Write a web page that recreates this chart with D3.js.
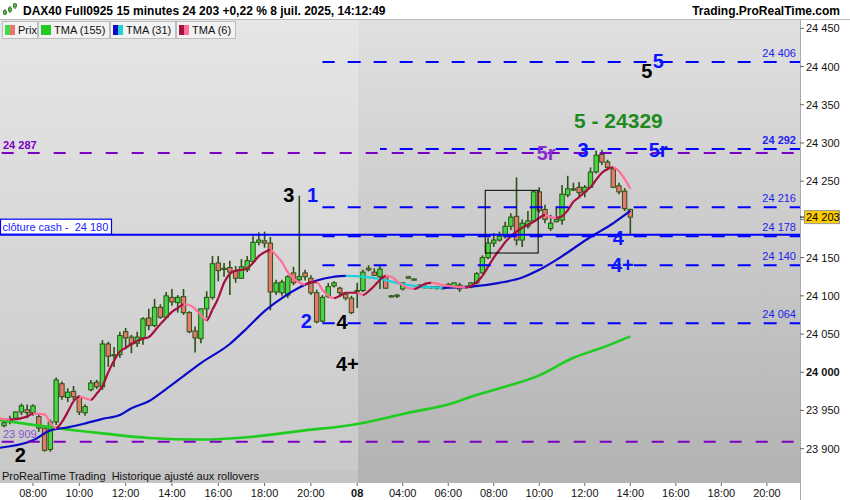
<!DOCTYPE html>
<html><head><meta charset="utf-8">
<script src="https://cdn.jsdelivr.net/npm/d3@7"></script>
<style>body{margin:0;background:#fff;} svg{display:block;font-family:"Liberation Sans",Arial,Helvetica,sans-serif;}</style>
</head><body><div id="chart"></div>
<script>
// ---------- DATA ----------
const opens = [
23930,23939,23940,23948,23951,23947,23942,23927,23899,23935,
23985,23967,23975,23967,23947,23977,23987,23981,24037,24022,
24023,24053,24046,24038,24045,24071,24061,24085,24072,24098,
24091,24099,24078,24054,24044,24083,24098,24143,24135,24137,
24132,24123,24134,24145,24170,24172,24169,24105,24104,24101,
24130,24121,24130,24123,24104,24067,24099,24113,24110,24102,
24097,24106,24107,24136,24131,24125,24125,24100,24101,24109,
24125,24122,24112,24112,24111,24112,24110,24112,24112,24114,
24111,24112,24117,24130,24150,24169,24173,24178,24191,24204,
24173,24191,24198,24236,24213,24188,24197,24199,24232,24240,
24242,24236,24242,24262,24285,24275,24266,24244,24237,24213];
const highs = [
23938,23943,23949,23959,23958,23958,23946,23931,23938,23993,
23988,23979,23982,23970,23958,23990,23990,24042,24040,24033,
24053,24058,24049,24053,24072,24083,24096,24089,24105,24109,
24101,24109,24080,24060,24083,24106,24152,24152,24143,24146,
24139,24148,24152,24178,24183,24184,24177,24121,24121,24127,
24138,24231,24134,24127,24108,24101,24117,24119,24112,24105,
24100,24117,24134,24140,24136,24139,24127,24101,24102,24118,
24126,24123,24115,24114,24113,24113,24112,24117,24117,24117,
24113,24118,24131,24153,24176,24182,24184,24197,24208,24255,
24200,24211,24238,24242,24219,24206,24216,24245,24257,24248,
24249,24245,24268,24290,24291,24278,24268,24248,24241,24214];
const lows = [
23928,23932,23938,23944,23940,23943,23922,23896,23896,23931,
23964,23961,23964,23944,23943,23975,23978,23977,24007,24007,
24019,24030,24025,24033,24036,24055,24059,24070,24071,24087,
24078,24075,24051,24026,24038,24071,24095,24119,24125,24101,
24117,24122,24131,24143,24166,24163,24081,24101,24100,24097,
24114,24119,24120,24101,24064,24065,24097,24111,24100,24094,
24076,24084,24105,24132,24126,24109,24109,24098,24097,24107,
24122,24121,24110,24110,24109,24108,24108,24111,24110,24105,
24110,24110,24115,24129,24148,24164,24171,24175,24186,24166,
24164,24188,24197,24209,24195,24185,24196,24193,24229,24237,
24228,24229,24241,24260,24271,24264,24241,24233,24211,24180];
const closes = [
23934,23935,23948,23956,23947,23956,23927,23898,23935,23990,
23968,23974,23968,23948,23955,23986,23981,24037,24021,24023,
24048,24045,24037,24046,24070,24061,24085,24072,24100,24092,
24098,24078,24053,24045,24083,24098,24142,24133,24136,24131,
24123,24138,24146,24170,24173,24169,24105,24117,24118,24125,
24117,24125,24125,24104,24066,24098,24112,24117,24104,24097,
24078,24107,24131,24134,24127,24135,24110,24100,24101,24117,
24123,24122,24114,24112,24112,24110,24111,24115,24117,24109,
24112,24117,24129,24150,24169,24173,24178,24191,24203,24173,
24195,24198,24236,24212,24200,24195,24200,24233,24240,24240,
24235,24242,24262,24284,24275,24268,24242,24236,24214,24203];

const tma155Bars = [-1,8,17,25,34,42,52,60,70,78,81,86,93,99,104,109];
const tma155Vals = [23938,23928,23920,23914,23912,23915,23924,23931,23947,23960,23968,23979,23996,24019,24032,24047];

const tma31Bars = [-1,5,8,11,14,17,20,22,25,28,31,34,39,42,45,48,51,54,57,59,62,65,68,71,74,76,81,86,90,93,96,102,106,109];
const tma31Vals = [23901,23911,23924,23928,23933,23939,23944,23953,23962,23978,23995,24012,24037,24058,24080,24097,24111,24120,24125,24126,24125,24122,24117,24113,24111,24110.5,24112,24117,24124,24134,24147,24177,24195,24211];

const tma6Bars = [-1,1,4,5,7,8,9,10,11,12,13,14,15,16,17,18,19,20,21,22,23,24,25,26,27,28,29,30,31,32,33,34,35,36,37,38,39,40,41,42,43,44,45,46,47,48,49,50,51,52,53,54,55,56,57,58,59,60,61,62,63,64,65,66,67,68,69,70,71,72,73,74,75,76,77,78,79,80,81,82,83,84,85,86,87,88,89,90,91,92,93,94,95,96,97,98,99,100,101,102,103,104,105,106,107,108,109];
const tma6Vals = [23940,23938,23942,23946,23945,23934,23927,23935,23948,23962,23968,23966,23964,23972,23982,24000,24015,24027,24032,24037,24041,24044,24046,24054,24063,24071,24079,24084,24089,24088,24083,24075,24068,24082,24097,24117,24129,24133,24134,24136,24143,24152,24157,24160,24153,24144,24131,24123,24117,24115,24118,24118,24108,24100,24097,24100,24104,24104,24104,24101,24106,24113,24121,24126,24125,24119,24114,24110,24109,24112,24116,24117,24116,24114,24113,24112,24111.5,24111,24113,24118,24126,24138,24150,24160,24170,24178,24184,24189,24193,24197,24202,24206,24203,24202,24204,24212,24223,24229,24236,24242,24252,24261,24266,24268,24263,24253,24240];

const xTickBars = [5,13,21,29,37,45,53,61,69,77,85,93,101,109,117,125,133];
const xTickLabels = ["08:00","10:00","12:00","14:00","16:00","18:00","20:00","08","04:00","06:00","08:00","10:00","12:00","14:00","16:00","18:00","20:00"];
const yTicks = [23900,23950,24000,24050,24100,24150,24200,24250,24300,24350,24400,24450];
const yTickLabels = ["23 900","23 950","24 000","24 050","24 100","24 150","24 200","24 250","24 300","24 350","24 400","24 450"];

const blueLevels = [24406,24292,24216,24178,24140,24064];
const blueLevelLabels = ["24 406","24 292","24 216","24 178","24 140","24 064"];
const blueLevelStart = [55,65,55,55,55,55];
const purpleLevels = [24287,23909];
const purpleLevelLabels = ["24 287","23 909"];
const cashClose = 24180;
const cashLabel = "clôture cash -\u00a0 24 180";
const lastPrice = 24203, lastPriceLabel = "24 203";
const dayBreakBar = 61;
const boxBars = [83.5,92.8], boxPrices = [24156,24238];

const annoText  = ["3","1","2","4","4+","2","5r","3","5r","5 - 24329","5","5","4","4+"];
const annoBar   = [49.2,53.3,52.2,58.4,59.3,2.8,94.2,100.7,113.9,106.9,111.9,113.9,106.9,107.6];
const annoPrice = [24223,24223,24058,24056,24001,23883,24278,24282,24282,24320,24385,24398,24167,24131];
const annoStyle = ["k","b","b","k","k","k","p","b","b","g","k","b","b","b"];

// ---------- DRAW ----------
const W=850,H=500;
const P={l:0,r:800,t:20,b:483};
const svg=d3.select("#chart").append("svg").attr("width",W).attr("height",H);
const x=d3.scaleLinear().domain([0,dayBreakBar,133]).range([4.05,357.2,766.9]);
const y=d3.scaleLinear().domain([23900,24450]).range([448.7,28.3]);
const defs=svg.append("defs");
function grad(id,c1,c2){const g=defs.append("linearGradient").attr("id",id).attr("gradientUnits","userSpaceOnUse").attr("x1",0).attr("x2",0).attr("y1",P.t).attr("y2",P.b);
 g.append("stop").attr("offset",0).attr("stop-color",c1);g.append("stop").attr("offset",1).attr("stop-color",c2);}
grad("gL","#e6e6e6","#c8c8c8");
grad("gR","#e0e0e0","#b2b2b2");
defs.append("clipPath").attr("id","plotClip").append("rect").attr("x",P.l).attr("y",P.t).attr("width",P.r-P.l).attr("height",P.b-P.t);

const xb=x(dayBreakBar)+0.5;
svg.append("rect").attr("x",P.l).attr("y",P.t).attr("width",xb-P.l).attr("height",P.b-P.t).attr("fill","url(#gL)");
svg.append("rect").attr("x",xb).attr("y",P.t).attr("width",P.r-xb).attr("height",P.b-P.t).attr("fill","url(#gR)");

const g=svg.append("g").attr("clip-path","url(#plotClip)");

// candles
const bars=d3.range(opens.length);
const wick="#2b5214";
g.append("g").selectAll("line").data(bars).join("line")
 .attr("x1",i=>x(i)).attr("x2",i=>x(i)).attr("y1",i=>y(highs[i])).attr("y2",i=>y(lows[i]))
 .attr("stroke",wick).attr("stroke-width",1.6);
g.append("g").selectAll("rect").data(bars).join("rect")
 .attr("x",i=>x(i)-2.2).attr("width",4.4)
 .attr("y",i=>y(Math.max(opens[i],closes[i])))
 .attr("height",i=>Math.max(1.2,Math.abs(y(opens[i])-y(closes[i]))))
 .attr("fill",i=>closes[i]>=opens[i]?"#45d845":"#e8786e")
 .attr("stroke",wick).attr("stroke-width",1);

// colored line helper
function colorLine(bs,vs,up,down,w){
 const pts=bs.map((b,k)=>[x(b),y(vs[k])]);
 const line=d3.line().curve(d3.curveMonotoneX);
 const d=line(pts);
 if(down==null){g.append("path").attr("d",d).attr("fill","none").attr("stroke",up).attr("stroke-width",w);return;}
 for(let k=0;k<bs.length-1;k++){
  const rising=vs[k+1]>=vs[k];
  const id="c"+Math.random().toString(36).slice(2);
  const x0=k===0?-50:pts[k][0], x1=k===bs.length-2?900:pts[k+1][0];
  defs.append("clipPath").attr("id",id).append("rect").attr("x",x0).attr("y",0).attr("width",x1-x0+0.3).attr("height",H);
  g.append("path").attr("d",d).attr("fill","none").attr("stroke",rising?up:down).attr("stroke-width",w).attr("clip-path",`url(#${id})`);
 }
}
colorLine(tma155Bars,tma155Vals,"#1fcc1f",null,2.6);
colorLine(tma31Bars,tma31Vals,"#0a0ac8","#1fd0d8",2.2);
colorLine(tma6Bars,tma6Vals,"#a5103e","#ff6f9a",2.2);

// levels
const phase=321.7, per=26;
blueLevels.forEach((v,k)=>{
 const x1=x(blueLevelStart[k]);
 const off=((x1-phase)%per+per)%per;
 g.append("line").attr("x1",x1).attr("x2",P.r).attr("y1",y(v)).attr("y2",y(v))
  .attr("stroke","#0000ff").attr("stroke-width",2).attr("stroke-dasharray","13,13").attr("stroke-dashoffset",off);
 svg.append("text").attr("x",796).attr("y",y(v)-5).attr("text-anchor","end").attr("font-size",11)
  .attr("font-weight",k===1?"bold":"normal").attr("fill","#2222ee").text(blueLevelLabels[k]);
});
purpleLevels.forEach((v,k)=>{
 g.append("line").attr("x1",1.7).attr("x2",P.r).attr("y1",y(v)).attr("y2",y(v))
  .attr("stroke","#7a00c2").attr("stroke-width",2).attr("stroke-dasharray","12,14");
});
svg.append("text").attr("x",3).attr("y",y(purpleLevels[0])-4).attr("font-size",11).attr("font-weight","bold").attr("fill","#7a00c2").text(purpleLevelLabels[0]);
svg.append("text").attr("x",3).attr("y",y(purpleLevels[1])-4).attr("font-size",11).attr("fill","#8a4fd0").text(purpleLevelLabels[1]);

// cash close
g.append("line").attr("x1",P.l).attr("x2",P.r).attr("y1",y(cashClose)).attr("y2",y(cashClose)).attr("stroke","#0000ff").attr("stroke-width",2);
svg.append("rect").attr("x",0.5).attr("y",y(cashClose)-15.5).attr("width",111).attr("height",15).attr("fill","#fff").attr("stroke","#0000ff").attr("stroke-width",1.2);
svg.append("text").attr("x",2.5).attr("y",y(cashClose)-4).attr("font-size",11).attr("fill","#1a1aff").text(cashLabel);

// box
g.append("rect").attr("x",x(boxBars[0])).attr("y",y(boxPrices[1])).attr("width",x(boxBars[1])-x(boxBars[0])).attr("height",y(boxPrices[0])-y(boxPrices[1]))
 .attr("fill","none").attr("stroke","#000").attr("stroke-width",1);

// annotations
const acol={k:"#000",b:"#0a14ff",p:"#8a2bd0",g:"#1e8a1e"};
annoText.forEach((t,k)=>{
 svg.append("text").attr("x",x(annoBar[k])).attr("y",y(annoPrice[k])).attr("text-anchor","middle")
  .attr("font-size",annoStyle[k]==="g"?21:20).attr("font-weight","bold").attr("fill",acol[annoStyle[k]]).text(t);
});

// bottom strip
svg.append("rect").attr("x",0).attr("y",470).attr("width",xb).attr("height",13).attr("fill","#c4c4c4");
svg.append("rect").attr("x",xb).attr("y",470).attr("width",P.r-xb).attr("height",13).attr("fill","#b4b4b4");
svg.append("text").attr("x",2).attr("y",480).attr("font-size",11).attr("fill","#111").text("ProRealTime Trading\u00a0 Historique ajusté aux rollovers");

// right axis
svg.append("line").attr("x1",800.5).attr("x2",800.5).attr("y1",P.t).attr("y2",H).attr("stroke","#aaa");
const ya=svg.append("g");
yTicks.forEach((v,k)=>{
 ya.append("line").attr("x1",800).attr("x2",804).attr("y1",y(v)).attr("y2",y(v)).attr("stroke","#666");
 if(Math.abs(y(v)-y(lastPrice))<12) return; // hidden behind the last-price tag
 ya.append("text").attr("x",806).attr("y",y(v)+4).attr("font-size",11).attr("font-weight",v===24000?"bold":"normal").attr("fill","#111").text(yTickLabels[k]);
});
svg.append("line").attr("x1",800).attr("x2",804).attr("y1",y(lastPrice)).attr("y2",y(lastPrice)).attr("stroke","#000");
svg.append("rect").attr("x",804.5).attr("y",y(lastPrice)-6.5).attr("width",35).attr("height",13).attr("fill","#ffcc00").attr("stroke","#999");
svg.append("text").attr("x",806).attr("y",y(lastPrice)+4).attr("font-size",11).attr("fill","#000").text(lastPriceLabel);

// x axis
xTickBars.forEach((b,k)=>{
 svg.append("line").attr("x1",x(b)).attr("x2",x(b)).attr("y1",483).attr("y2",486).attr("stroke","#666");
 svg.append("text").attr("x",x(b)).attr("y",496.5).attr("text-anchor","middle").attr("font-size",11)
  .attr("font-weight",xTickLabels[k]==="08"?"bold":"normal").attr("fill","#111").text(xTickLabels[k]);
});

// header
svg.append("line").attr("x1",0).attr("x2",W).attr("y1",19.5).attr("y2",19.5).attr("stroke","#bbb");
const ic=svg.append("g");
[[5,9,15,11,14],[10,6,13,8,11],[15,3,9,4,7]].forEach(c=>{
 ic.append("line").attr("x1",c[0]).attr("x2",c[0]).attr("y1",c[1]).attr("y2",c[2]).attr("stroke","#2b5214");
 ic.append("rect").attr("x",c[0]-1.5).attr("y",c[3]).attr("width",3).attr("height",c[4]-c[3]).attr("fill","#45d845").attr("stroke","#2b5214").attr("stroke-width",0.7);
});
svg.append("text").attr("x",23).attr("y",15).attr("font-size",12).attr("font-weight","bold").attr("fill","#000")
 .text("DAX40 Full0925 15 minutes 24 203 +0,22 % 8 juil. 2025, 14:12:49");
svg.append("text").attr("x",840).attr("y",15).attr("text-anchor","end").attr("font-size",12).attr("font-weight","bold").attr("fill","#000").text("Trading.ProRealTime.com");

// legend
const leg=[{t:"Prix",c:["#45d845","#e8786e"],x:2,w:35},{t:"TMA (155)",c:["#1fcc1f","#1fcc1f"],x:38,w:71},{t:"TMA (31)",c:["#0a0ac8","#1fd0d8"],x:110,w:65},{t:"TMA (6)",c:["#a5103e","#ff6f9a"],x:176,w:59}];
leg.forEach(L=>{
 svg.append("rect").attr("x",L.x+0.5).attr("y",21.5).attr("width",L.w).attr("height",17).attr("fill","#f2f2f2").attr("stroke","#bdbdbd");
 svg.append("rect").attr("x",L.x+3).attr("y",25).attr("width",5).attr("height",10).attr("fill",L.c[0]);
 svg.append("rect").attr("x",L.x+8).attr("y",25).attr("width",5).attr("height",10).attr("fill",L.c[1]);
 svg.append("text").attr("x",L.x+16).attr("y",34).attr("font-size",11).attr("fill","#111").text(L.t);
});
</script></body></html>
